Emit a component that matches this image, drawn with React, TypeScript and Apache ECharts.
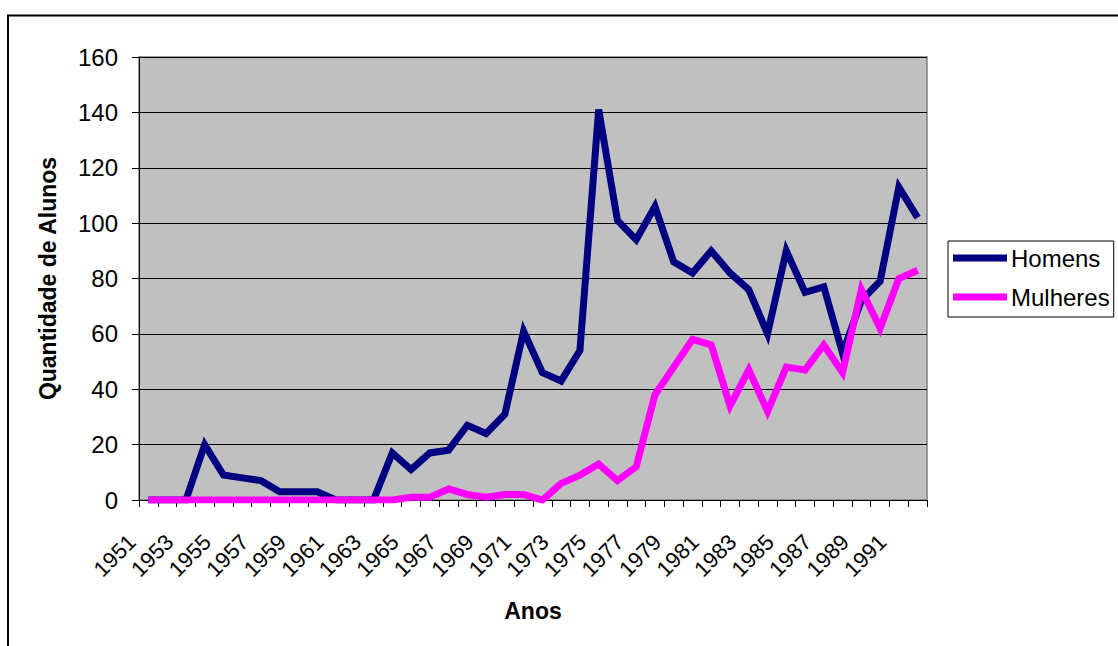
import React, { useEffect, useRef } from "react";
import * as echarts from "echarts";

const years = [
  "1951", "1952", "1953", "1954", "1955", "1956", "1957", "1958", "1959", "1960",
  "1961", "1962", "1963", "1964", "1965", "1966", "1967", "1968", "1969", "1970",
  "1971", "1972", "1973", "1974", "1975", "1976", "1977", "1978", "1979", "1980",
  "1981", "1982", "1983", "1984", "1985", "1986", "1987", "1988", "1989", "1990",
  "1991", "1992",
];

const homens = [
  0, 0, 0, 20, 9, 8, 7, 3, 3, 3,
  0, 0, 0, 17, 11, 17, 18, 27, 24, 31,
  61, 46, 43, 54, 141, 101, 94, 106, 86, 82,
  90, 82, 76, 60, 90, 75, 77, 53, 72, 79,
  113, 102,
];

const mulheres = [
  0, 0, 0, 0, 0, 0, 0, 0, 0, 0,
  0, 0, 0, 0, 1, 1, 4, 2, 1, 2,
  2, 0, 6, 9, 13, 7, 12, 38, 48, 58,
  56, 34, 47, 32, 48, 47, 56, 46, 76, 62,
  80, 83,
];

const yTicks = { min: 0, max: 160, interval: 20 };

const FONT = "Arial, 'Liberation Sans', sans-serif";

export default function App() {
  const ref = useRef<HTMLDivElement>(null);

  useEffect(() => {
    if (!ref.current) return;
    const chart = echarts.init(ref.current, undefined, { renderer: "svg" });
    chart.setOption({
      animation: false,
      backgroundColor: "#ffffff",
      textStyle: { fontFamily: FONT },
      graphic: [
        {
          type: "rect",
          shape: { x: 8, y: 15.5, width: 1200, height: 700 },
          style: { fill: "none", stroke: "#000", lineWidth: 2 },
          silent: true,
        },
      ],
      grid: {
        left: 139,
        right: 191,
        top: 57,
        bottom: 146,
        show: true,
        backgroundColor: "#c0c0c0",
        borderColor: "#808080",
        borderWidth: 1.5,
      },
      legend: {
        orient: "vertical",
        left: 948,
        top: 241,
        padding: [5, 4, 8, 5],
        itemWidth: 54,
        itemHeight: 7,
        itemGap: 15,
        icon: "rect",
        borderColor: "#000",
        borderWidth: 1,
        backgroundColor: "#fff",
        textStyle: { fontSize: 24, color: "#000", fontFamily: FONT, padding: [0, 0, 0, -1] },
        data: ["Homens", "Mulheres"],
      },
      xAxis: {
        type: "category",
        data: years,
        boundaryGap: true,
        name: "Anos",
        nameLocation: "middle",
        nameGap: 99,
        nameTextStyle: { fontSize: 23, fontWeight: "bold", color: "#000", fontFamily: FONT },
        axisLine: { lineStyle: { color: "#000", width: 1 } },
        axisTick: { show: true, interval: 0, length: 7, lineStyle: { color: "#000" } },
        axisLabel: {
          interval: 1,
          rotate: 45,
          fontSize: 22,
          color: "#000",
          margin: 22,
          padding: [0, 23, 0, 0],
          fontFamily: FONT,
        },
        splitLine: { show: false },
      },
      yAxis: {
        type: "value",
        min: yTicks.min,
        max: yTicks.max,
        interval: yTicks.interval,
        name: "Quantidade de Alunos",
        nameLocation: "middle",
        nameGap: 80,
        nameTextStyle: { fontSize: 23, fontWeight: "bold", color: "#000", fontFamily: FONT },
        axisLine: { show: true, lineStyle: { color: "#000", width: 1 } },
        axisTick: { show: true, length: 7, lineStyle: { color: "#000" } },
        axisLabel: { fontSize: 24, color: "#000", margin: 21, fontFamily: FONT },
        splitLine: { show: true, lineStyle: { color: "#000", width: 1 } },
      },
      series: [
        {
          name: "Homens",
          type: "line",
          data: homens,
          showSymbol: false,
          symbol: "none",
          lineStyle: { color: "#000080", width: 7, join: "miter" },
          itemStyle: { color: "#000080" },
        },
        {
          name: "Mulheres",
          type: "line",
          data: mulheres,
          showSymbol: false,
          symbol: "none",
          lineStyle: { color: "#ff00ff", width: 7, join: "miter" },
          itemStyle: { color: "#ff00ff" },
        },
      ],
    });
    return () => chart.dispose();
  }, []);

  return (
    <div
      ref={ref}
      style={{ position: "absolute", left: 0, top: 0, width: 1118, height: 646 }}
    />
  );
}
